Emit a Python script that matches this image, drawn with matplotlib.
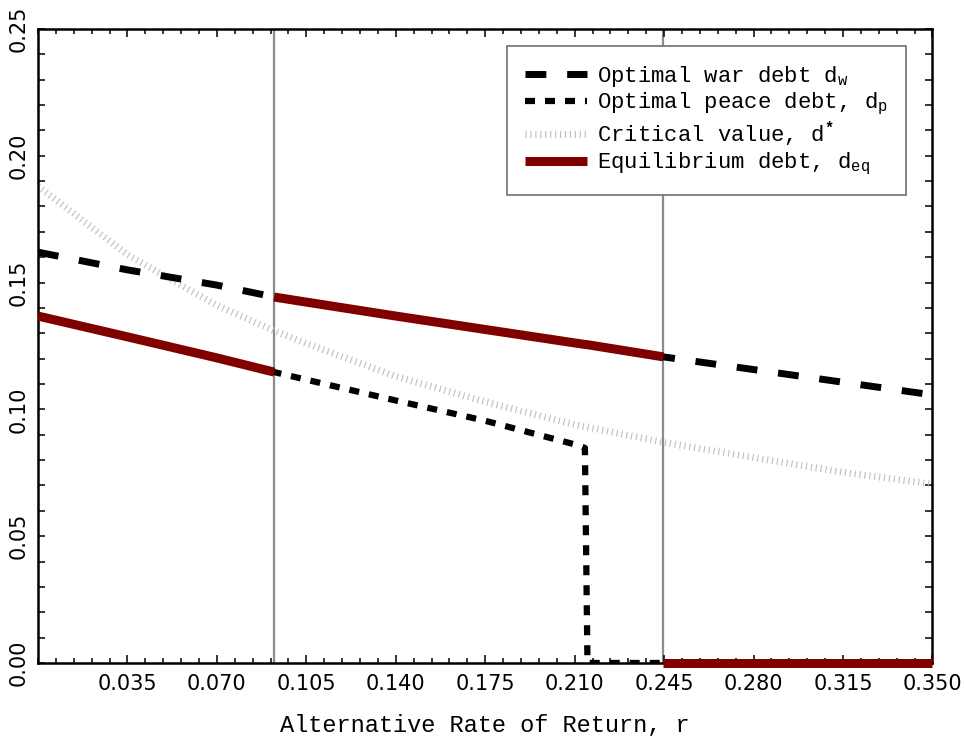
import matplotlib
matplotlib.use('Agg')
import matplotlib.pyplot as plt
from matplotlib.ticker import MultipleLocator, FixedLocator
import numpy as np

plt.rcParams['font.family'] = ['Liberation Mono']
plt.rcParams['mathtext.fontset'] = 'custom'
plt.rcParams['mathtext.rm'] = 'Liberation Mono'
plt.rcParams['mathtext.bf'] = 'Liberation Mono:bold'

# thresholds where the regime changes (vertical lines)
r_war = 0.0924
r_peace = 0.2447

# alternative rate of return grid and curves
r = [0.0, 0.035, 0.07, 0.0924, 0.105, 0.14, 0.175, 0.21, 0.2140, 0.2150, 0.2447, 0.28, 0.315, 0.35]
d_war = [0.1620, 0.1550, 0.1490, 0.1443, 0.1423, 0.1368, 0.1315, 0.1262, 0.1256, 0.1255, 0.1207, 0.1157, 0.1107, 0.1057]
d_peace = [0.1368, 0.1286, 0.1203, 0.1147, 0.1117, 0.1035, 0.0955, 0.0862, 0.0848, 0.0, 0.0, 0.0, 0.0, 0.0]
d_crit = [0.1880, 0.1610, 0.1410, 0.1310, 0.1260, 0.1130, 0.1030, 0.0940, 0.0932, 0.0930, 0.0870, 0.0810, 0.0752, 0.0705]

x_ticks = [0.035, 0.070, 0.105, 0.140, 0.175, 0.210, 0.245, 0.280, 0.315, 0.350]
y_ticks = [0.00, 0.05, 0.10, 0.15, 0.20, 0.25]

r = np.array(r)
d_war = np.array(d_war)
d_peace = np.array(d_peace)
d_eq = np.where(r <= r_war, d_peace, np.where(r <= r_peace, d_war, 0.0))

fig = plt.figure(figsize=(9.64, 7.41), dpi=100)
ax = fig.add_axes([0.0394, 0.1053, 0.9279, 0.8556])

for xv in (r_war, r_peace):
    ax.axvline(xv, color='#8c8c8c', lw=1.6, zorder=1)

l_crit, = ax.plot(r, d_crit, color='#bebebe', lw=5, linestyle=(0, (0.16, 0.55)),
                  dash_capstyle='butt', solid_capstyle='butt', zorder=2,
                  label=r'Critical value, d$^{\mathbf{*}}$')
l_war, = ax.plot(r, d_war, color='black', lw=5, linestyle=(0, (3, 3)),
                 dash_capstyle='butt', zorder=3, label=r'Optimal war debt d$_{\mathrm{w}}$')
l_peace, = ax.plot(r, d_peace, color='black', lw=4.5, linestyle=(0, (1.6, 1.6)),
                   dash_capstyle='butt', zorder=3, label=r'Optimal peace debt, d$_{\mathrm{p}}$')

red = '#800000'
m1 = r <= r_war
m2 = (r >= r_war) & (r <= r_peace)
m3 = r >= r_peace
l_eq, = ax.plot(r[m1], d_eq[m1], color=red, lw=6.5, solid_capstyle='butt', zorder=4,
                label=r'Equilibrium debt, d$_{\mathrm{eq}}$')
ax.plot(r[m2], d_war[m2], color=red, lw=6.5, solid_capstyle='butt', zorder=4)
ax.plot(r[m3], d_eq[m3] * 0, color=red, lw=6.5, solid_capstyle='butt', zorder=4, clip_on=False)

ax.set_xlim(0, 0.35)
ax.set_ylim(0, 0.25)

ax.xaxis.set_major_locator(FixedLocator(x_ticks))
ax.xaxis.set_minor_locator(MultipleLocator(0.007))
ax.set_xticklabels(['%.3f' % v for v in x_ticks], fontfamily='DejaVu Sans', fontsize=15)
ax.yaxis.set_major_locator(FixedLocator(y_ticks))
ax.yaxis.set_minor_locator(MultipleLocator(0.01))
ax.set_yticklabels(['%.2f' % v for v in y_ticks], fontfamily='DejaVu Sans', fontsize=15,
                   rotation=90, va='center')

ax.tick_params(which='both', direction='in', top=True, right=True, width=1.1, color='black')
ax.tick_params(axis='x', which='major', length=5.5, pad=8)
ax.tick_params(axis='x', which='minor', length=3.3)
ax.tick_params(axis='y', which='both', length=5, pad=7)

for sp in ax.spines.values():
    sp.set_linewidth(1.8)

ax.set_xlabel('Alternative Rate of Return, r', fontsize=17, labelpad=14)

leg = ax.legend(handles=[l_war, l_peace, l_crit, l_eq], loc='upper right',
                bbox_to_anchor=(0.97, 0.973), fontsize=16, fancybox=False,
                framealpha=1, edgecolor='#707070', handlelength=2.8,
                handletextpad=0.45, labelspacing=0.1, borderpad=0.8, borderaxespad=0)
leg.get_frame().set_linewidth(1.2)
leg.set_zorder(5)

fig.savefig('out.png', dpi=100)
